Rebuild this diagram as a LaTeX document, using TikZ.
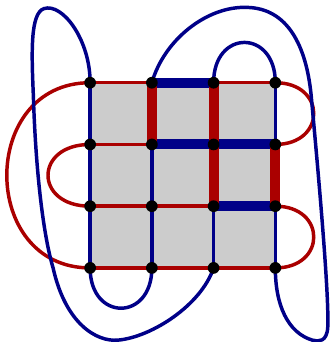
\documentclass[tikz,border=0pt]{standalone}
\usetikzlibrary{calc}
\definecolor{lred}{HTML}{AA0000}
\definecolor{lblue}{HTML}{000088}
\definecolor{cellgray}{HTML}{CCCCCC}
\tikzset{
  % thin strands
  redline/.style={line width=1.6pt, lred},
  blueline/.style={line width=1.6pt, lblue},
  % thick segments
  redbar/.style={line width=4.6pt, lred},
  bluebar/.style={line width=4.6pt, lblue},
  % grid vertex
  vertex/.style={circle, fill=black, inner sep=0pt, minimum size=0.19cm},
}
\begin{document}
\begin{tikzpicture}
  \useasboundingbox (-1.46,-1.2) rectangle (3.89,4.34);
  \foreach \i in {0,...,3} \foreach \j in {0,...,3} \coordinate (p\i\j) at (\i,\j);
  \fill[cellgray] (p00) rectangle (p33);
  \foreach \j in {0,...,3} \draw[redline] (p0\j) -- (p3\j);
  \foreach \i in {0,...,3} \draw[blueline] (p\i0) -- (p\i3);
  % red loops
  \draw[redline] (p03) .. controls (-1.8,3) and (-1.8,0) .. (p00);
  \draw[redline] (p02) .. controls (-0.91,2) and (-0.91,1) .. (p01);
  \draw[redline] (p33) .. controls (3.83,3) and (3.83,2) .. (p32);
  \draw[redline] (p31) .. controls (3.83,1) and (3.83,0) .. (p30);
  % blue loops
  \draw[blueline] (p00) .. controls (0,-0.87) and (1,-0.87) .. (p10);
  \draw[blueline] (p23) .. controls (2,3.87) and (3,3.87) .. (p33);
  \draw[blueline] (p03) .. controls (0,3.7) and (-0.45,4.3) .. (-0.75,4.2)
    .. controls (-0.97,4.12) and (-0.95,3.5) .. (-0.92,2.8)
    .. controls (-0.88,1.5) and (-0.75,0.5) .. (-0.6,0)
    .. controls (-0.4,-0.9) and (0.1,-1.2) .. (0.45,-1.17)
    .. controls (1.0,-1.12) and (1.8,-0.6) .. (p20);
  \draw[blueline] (p13) .. controls (1.2,3.7) and (1.9,4.25) .. (2.55,4.22)
    .. controls (3.2,4.2) and (3.5,3.6) .. (3.58,2.8)
    .. controls (3.7,1.5) and (3.87,-0.4) .. (3.85,-0.95)
    .. controls (3.84,-1.2) and (3.7,-1.2) .. (3.6,-1.17)
    .. controls (3.2,-1.05) and (3,-0.6) .. (p30);
  % thick segments
  \foreach \a/\b in {13/23, 12/32, 21/31} \draw[bluebar] (p\a) -- (p\b);
  \foreach \a/\b in {12/13, 21/23, 31/32} \draw[redbar] (p\a) -- (p\b);
  % vertices
  \foreach \i in {0,...,3} \foreach \j in {0,...,3} \node[vertex] (v\i\j) at (p\i\j) {};
\end{tikzpicture}
\end{document}
